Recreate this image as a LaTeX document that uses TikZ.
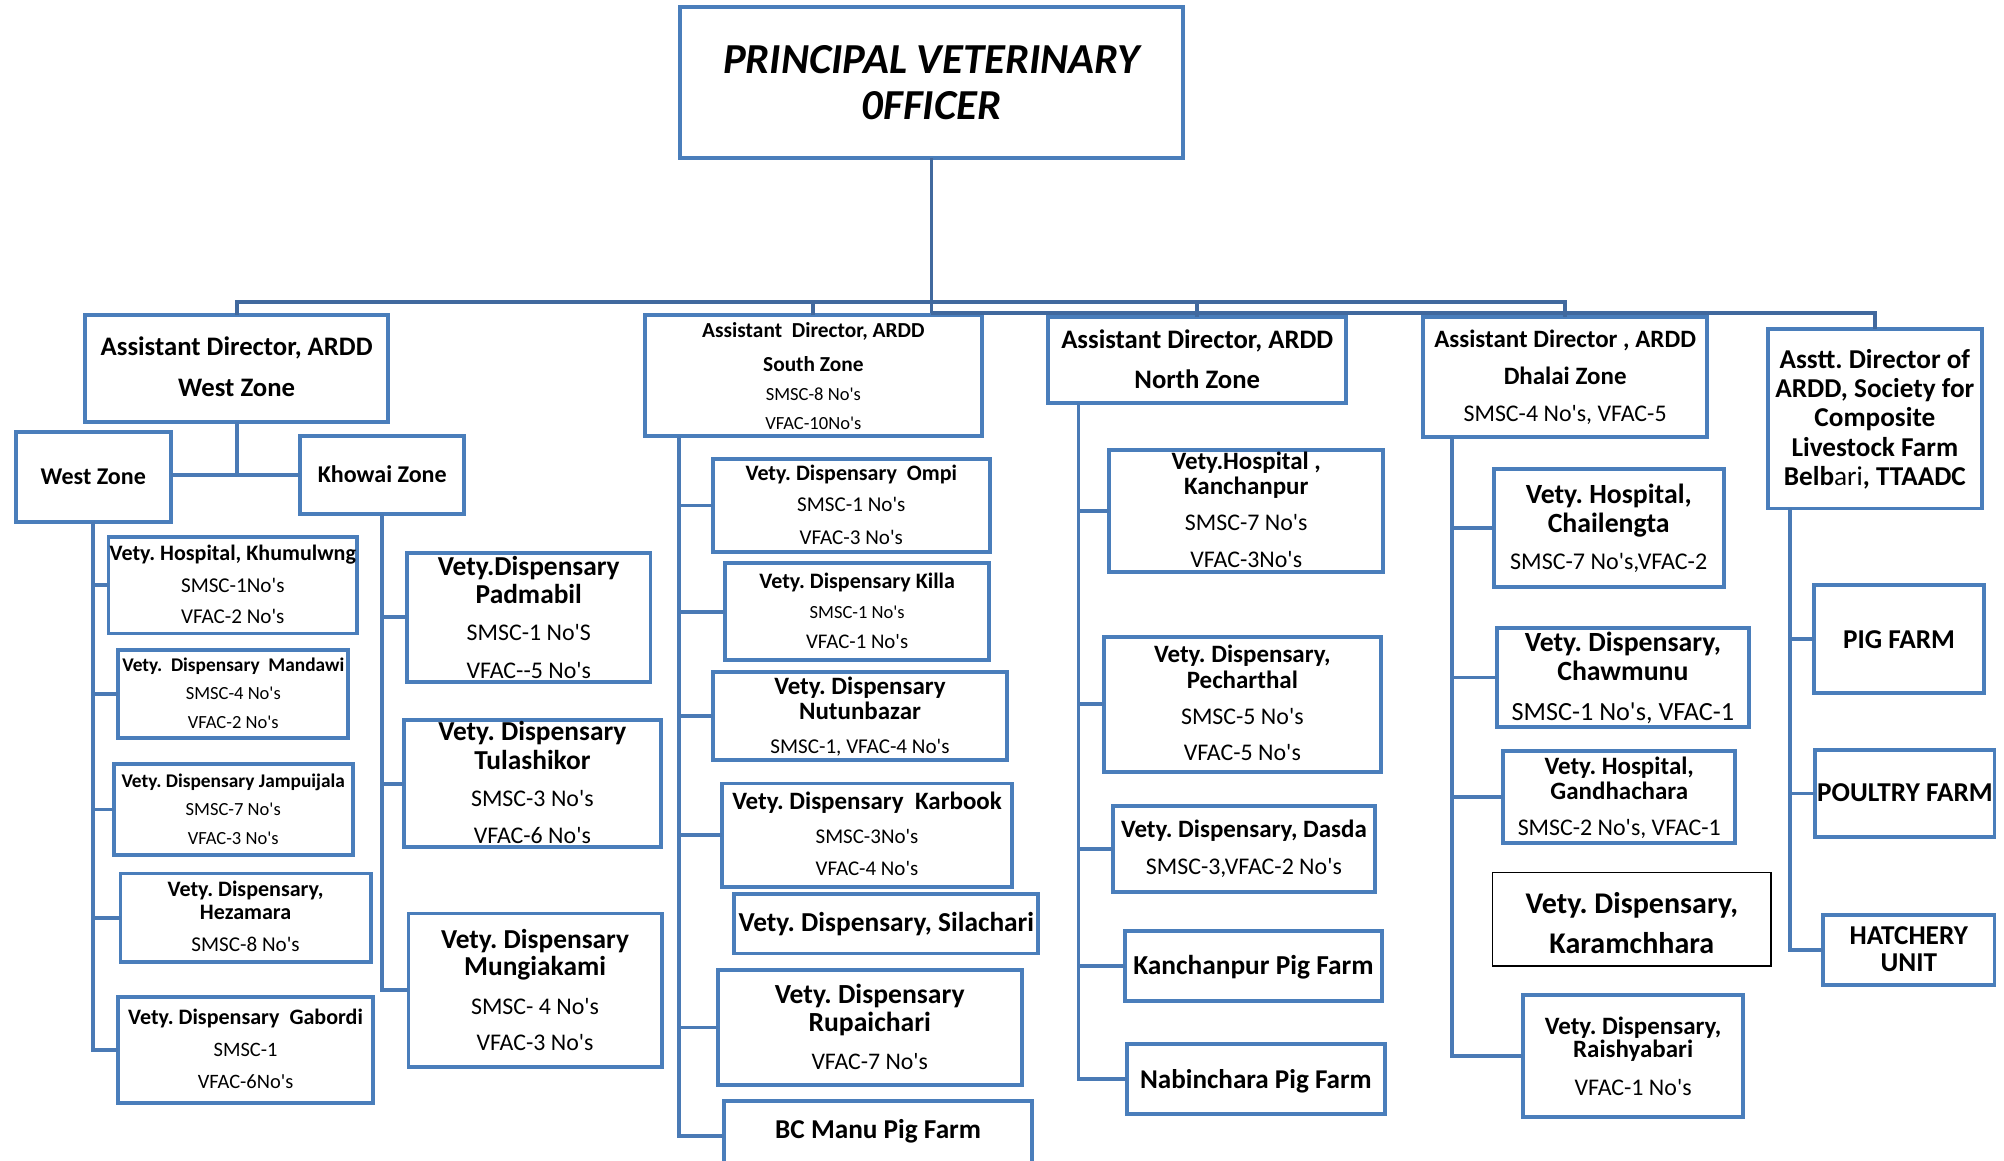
\documentclass[tikz,border=0pt]{standalone}
\usepackage{fontspec}
\setmainfont{Carlito}[Ligatures=TeXOff]
\usetikzlibrary{calc}
\definecolor{bxc}{HTML}{4A7EBB}
\definecolor{cnc}{HTML}{4A7AB5}
\definecolor{topc}{HTML}{41699E}
\newcounter{tlc}
\frenchspacing
\tikzset{
  box/.style={draw=bxc, line width=3pt, fill=white, inner sep=0pt, outer sep=0pt},
  kbox/.style={draw=black, line width=1.3pt, fill=white, inner sep=0pt, outer sep=0pt},
  txt/.style={inner sep=0pt, anchor=base},
  conn/.style={draw=cnc, line width=3pt},
  topbar/.style={draw=topc, line width=3pt},
}
\newcommand\bx[6][box]{\pgfmathsetmacro\cx{(#3+#5)/2}\node[#1,minimum width={(#5-#3)*1pt},minimum height={(#6-#4)*1pt}] (#2) at (\cx,{(#4+#6)/2}) {};}
% regular line: y, size, text
\newcommand\tr[3]{\node[txt,font=\fontsize{#2}{#2}\selectfont] (t\arabic{tlc}) at (\cx,{#1+0.31*#2}) {#3};\stepcounter{tlc}}
% bold line (size scaled to match the reference widths)
\newcommand\tb[3]{\pgfmathsetmacro\fs{#2*1.045}\node[txt,font=\fontsize{\fs}{\fs}\selectfont\bfseries] (t\arabic{tlc}) at (\cx,{#1+0.31*\fs}) {#3};\stepcounter{tlc}}
\newcommand\tbi[3]{\pgfmathsetmacro\fs{#2*1.045}\node[txt,font=\fontsize{\fs}{\fs}\selectfont\bfseries\itshape] (t\arabic{tlc}) at (\cx,{#1+0.31*\fs}) {#3};\stepcounter{tlc}}
\begin{document}
\begin{tikzpicture}[x=1pt,y=-1pt]
\fill[white] (0,0) rectangle (1568,908);
\useasboundingbox (0,0) rectangle (1568,908);

% ---------- top ----------
\bx{pvo}{531.8}{5.7}{925.8}{123.9}
\tbi{47}{32}{PRINCIPAL VETERINARY}
\tbi{83.5}{32}{0FFICER}

\bx{wad}{66.4}{246.5}{303.9}{330}
\tb{272}{20}{Assistant Director, ARDD}
\tb{303.9}{20}{West Zone}

\bx{sad}{504.7}{246.5}{768.1}{341.2}
\tb{258.7}{16}{Assistant\ \ Director, ARDD}
\tb{285.1}{16}{South Zone}
\tr{309.1}{14.5}{SMSC-8 No's}
\tr{331.8}{14.5}{VFAC-10No's}

\bx{nad}{820.3}{247.8}{1053.2}{315.6}
\tb{266}{20}{Assistant Director, ARDD}
\tb{297.3}{20}{North Zone}

\bx{dad}{1113.5}{247.8}{1335.7}{342.2}
\tb{266}{18.7}{Assistant Director , ARDD}
\tb{294.7}{18.7}{Dhalai Zone}
\tr{324}{18.7}{SMSC-4 No's, VFAC-5}

\bx{soc}{1383.3}{257.7}{1550.6}{397.8}
\tb{281.7}{20.4}{Asstt. Director of}
\tb{304.6}{20.4}{ARDD, Society for}
\tb{327.3}{20.4}{Composite}
\tb{350.3}{20.4}{Livestock Farm}
\tb{373}{20.4}{Belb{\mdseries ari}, TTAADC}

% ---------- west ----------
\bx{wz}{12.2}{337.8}{133.8}{408.2}
\tb{373}{18}{West Zone}
\bx{kz}{234.8}{341.2}{363.3}{402.4}
\tb{371.7}{18}{Khowai Zone}

\bx{khum}{84.9}{420.4}{279.4}{495.6}
\tb{433}{16.5}{Vety. Hospital, Khumulwng}
\tr{458.3}{16.5}{SMSC-1No's}
\tr{483}{16.5}{VFAC-2 No's}

\bx{mand}{92.6}{508.6}{272.5}{577.7}
\tb{520.4}{14.5}{Vety.\ \ Dispensary\ \ Mandawi}
\tr{542.5}{14.5}{SMSC-4 No's}
\tr{565.5}{14.5}{VFAC-2 No's}

\bx{jamp}{89}{597.8}{276}{669}
\tb{611.6}{14.5}{Vety. Dispensary Jampuijala}
\tr{633.3}{14.5}{SMSC-7 No's}
\tr{656}{14.5}{VFAC-3 No's}

\bx{heza}{94.3}{683.4}{290}{752.5}
\tb{696.4}{16.5}{Vety. Dispensary,}
\tb{714.1}{16.5}{Hezamara}
\tr{739.4}{16.5}{SMSC-8 No's}

\bx{gabo}{92.6}{780.4}{291.7}{862.8}
\tb{796}{16.5}{Vety. Dispensary\ \ Gabordi}
\tr{821.6}{16}{SMSC-1}
\tr{846.4}{16}{VFAC-6No's}

\bx{padm}{318.5}{432.5}{509}{533.4}
\tb{443.4}{20.5}{Vety.Dispensary}
\tb{465.6}{20.5}{Padmabil}
\tr{495.6}{18.7}{SMSC-1 No'S}
\tr{524.8}{18.7}{VFAC--5 No's}

\bx{tula}{316.1}{563.4}{517}{663}
\tb{573}{20.5}{Vety. Dispensary}
\tb{595.5}{20.5}{Tulashikor}
\tr{625.4}{18.7}{SMSC-3 No's}
\tr{654.1}{18.7}{VFAC-6 No's}

\bx{mung}{319.6}{714.7}{517.7}{834.7}
\tb{735.5}{20.5}{Vety. Dispensary}
\tb{756.9}{20.5}{Mungiakami}
\tr{787.7}{18.7}{SMSC- 4 No's}
\tr{816.4}{18.7}{VFAC-3 No's}

% ---------- south ----------
\bx{ompi}{557.6}{359.4}{774.6}{431.7}
\tb{370.9}{16.5}{Vety. Dispensary\ \ Ompi}
\tr{395.1}{16.5}{SMSC-1 No's}
\tr{421.2}{16.5}{VFAC-3 No's}

\bx{kill}{567.3}{440.8}{774.1}{516.4}
\tb{455.1}{16.5}{Vety. Dispensary Killa}
\tr{479.1}{14.5}{SMSC-1 No's}
\tr{502.6}{16.3}{VFAC-1 No's}

\bx{nutu}{558.1}{525.6}{787.7}{594.7}
\tb{537.3}{18.7}{Vety. Dispensary}
\tb{556.9}{18.7}{Nutunbazar}
\tr{584.3}{16.5}{SMSC-1, VFAC-4 No's}

\bx{karb}{565.2}{613}{791.6}{693.8}
\tb{627.3}{18.7}{Vety. Dispensary\ \ Karbook}
\tr{655.2}{16.4}{SMSC-3No's}
\tr{680}{16.4}{VFAC-4 No's}

\bx{sila}{574.6}{699.8}{812.4}{746}
\tb{722.5}{20.5}{Vety. Dispensary, Silachari}

\bx{rupa}{561.6}{759}{799.4}{849}
\tb{778.6}{20.7}{Vety. Dispensary}
\tb{800.7}{20.7}{Rupaichari}
\tr{830.7}{18.6}{VFAC-7 No's}

\bx{bcmp}{566.8}{861.3}{807.3}{916}
\tb{884.2}{20.4}{BC Manu Pig Farm}

% ---------- north ----------
\bx{kanh}{867.8}{352.1}{1082.4}{447.3}
\tb{361.3}{18.7}{Vety.Hospital ,}
\tb{380.8}{18.7}{Kanchanpur}
\tr{409.5}{18.7}{SMSC-7 No's}
\tr{438.2}{18.7}{VFAC-3No's}

\bx{pech}{863.8}{498.2}{1080.3}{603.8}
\tb{512.5}{18.7}{Vety. Dispensary,}
\tb{532.6}{18.7}{Pecharthal}
\tr{561.3}{18.7}{SMSC-5 No's}
\tr{589.5}{18.7}{VFAC-5 No's}

\bx{dasd}{870.7}{630.4}{1075.9}{697.7}
\tb{649.5}{18.7}{Vety. Dispensary, Dasda}
\tr{678.2}{18.7}{SMSC-3,VFAC-2 No's}

\bx{kpf}{880.3}{728.2}{1081.1}{783}
\tb{755.9}{20.5}{Kanchanpur Pig Farm}

\bx{npf}{881.6}{816.9}{1083.7}{871.7}
\tb{845.1}{20.3}{Nabinchara Pig Farm}

% ---------- dhalai ----------
\bx{chai}{1168.7}{367.2}{1348.7}{459.6}
\tb{387.3}{20.8}{Vety. Hospital,}
\tb{410}{20.8}{Chailengta}
\tr{440}{18.8}{SMSC-7 No's,VFAC-2}

\bx{chaw}{1171.4}{491.6}{1368.2}{568.6}
\tb{503.4}{20.8}{Vety. Dispensary,}
\tb{525.6}{20.8}{Chawmunu}
\tr{557.4}{20.5}{SMSC-1 No's, VFAC-1}

\bx{gand}{1176.2}{587.4}{1357.7}{659.9}
\tb{599.9}{18.7}{Vety. Hospital,}
\tb{619.5}{18.7}{Gandhachara}
\tr{648.1}{18.7}{SMSC-2 No's, VFAC-1}

\bx[kbox]{kara}{1167.8}{682.6}{1385.8}{755.9}
\tb{707.4}{22.5}{Vety. Dispensary,}
\tb{738.7}{22.5}{Karamchhara}

\bx{rais}{1191.9}{778.6}{1363.7}{873.8}
\tb{803.3}{18.7}{Vety. Dispensary,}
\tb{821.6}{18.7}{Raishyabari}
\tr{851.1}{18.7}{VFAC-1 No's}

% ---------- society ----------
\bx{pig}{1419.5}{457.7}{1552.1}{542.5}
\tb{500.8}{20.4}{PIG FARM}
\bx{poul}{1420.4}{586.9}{1560.6}{654.7}
\tb{620.7}{20.4}{POULTRY FARM}
\bx{hatc}{1426.4}{716}{1560.6}{770.7}
\tb{732.4}{20.4}{HATCHERY}
\tb{753.8}{20.4}{UNIT}

% ---------- connectors ----------
\coordinate (busA) at (728.8,236);
\coordinate (busB) at (728.8,245);
\draw[topbar] (pvo.south) -- (busB);
\draw[topbar] (wad.north) |- (busA) -| (dad.north);
\draw[topbar] (sad.north) |- (busA);
\draw[topbar] (nad.north) |- (busA);
\draw[topbar] (busB) -| (soc.north);

\coordinate (wsplit) at (wad.south |- kz.west);
\draw[conn] (wad.south) -- (wsplit);
\draw[conn] (wz.east |- wsplit) -- (kz.west);

\foreach \c in {khum,mand,jamp,heza,gabo} \draw[conn] (wz.south) |- (\c.west);
\foreach \c in {padm,tula,mung} \draw[conn] (kz.south) |- (\c.west);

\coordinate (st) at ([xshift=26.8pt]sad.south west);
\foreach \c in {ompi,kill,nutu,karb,rupa,bcmp} \draw[conn] (st) |- (\c.west);

\coordinate (nt) at ([xshift=23.5pt]nad.south west);
\foreach \c in {kanh,pech,dasd,kpf,npf} \draw[conn] (nt) |- (\c.west);

\coordinate (dt) at ([xshift=22.7pt]dad.south west);
\foreach \c in {chai,chaw,gand,rais} \draw[conn] (dt) |- (\c.west);

\coordinate (sct) at ([xshift=17.2pt]soc.south west);
\foreach \c in {pig,poul,hatc} \draw[conn] (sct) |- (\c.west);
\end{tikzpicture}
\end{document}
